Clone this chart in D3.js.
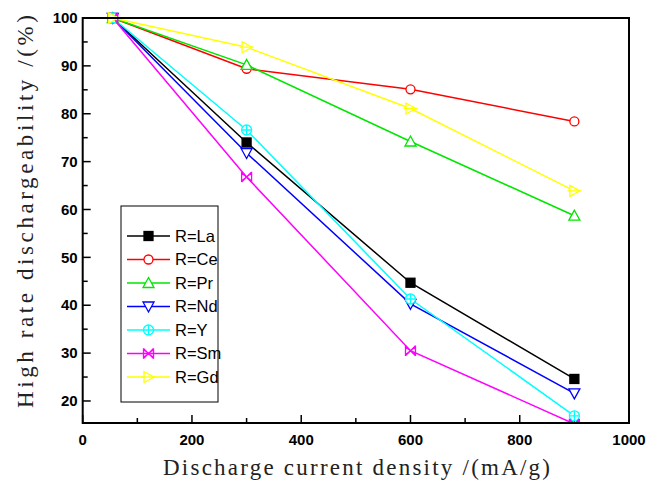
<!DOCTYPE html>
<html><head><meta charset="utf-8">
<script src="https://cdn.jsdelivr.net/npm/d3@7"></script>
<style>body{margin:0;background:#fff}svg{display:block}</style>
</head><body>
<svg id="c" width="657" height="484"></svg>
<script>
const currents = [55, 300, 600, 900];
const seriesNames = ["R=La","R=Ce","R=Pr","R=Nd","R=Y","R=Sm","R=Gd"];
const La = [100, 74.0, 44.7, 24.6];
const Ce = [100, 89.4, 85.1, 78.4];
const Pr = [100, 90.2, 74.2, 58.7];
const Nd = [100, 71.8, 40.3, 21.6];
const Yv = [100, 76.6, 41.3, 16.9];
const Sm = [100, 66.8, 30.5, 15.2];
const Gd = [100, 93.9, 81.1, 63.9];
const xTicks = [0,200,400,600,800,1000];
const xMinor = [100,300,500,700,900];
const yTicks = [20,30,40,50,60,70,80,90,100];
const yMinor = [25,35,45,55,65,75,85,95];
const xTitle = "Discharge current density /(mA/g)";
const yTitle = "High rate dischargeability /(%)";

const colors = ["#000000","#ff0000","#00e600","#0000ff","#00ffff","#ff00ff","#ffff00"];
const markers = ["square","circle","triUp","triDown","circPlus","bowX","triRight"];
const values = [La,Ce,Pr,Nd,Yv,Sm,Gd];

const svg = d3.select("#c");
const L=82.7, R=629, T=18, B=423;
const x = d3.scaleLinear().domain([0,1000]).range([L,R]);
const y = d3.scaleLinear().domain([15.4,100]).range([B,T]);

svg.append("defs").append("clipPath").attr("id","clip")
  .append("rect").attr("x",L).attr("y",T-8).attr("width",R-L).attr("height",B-T+8);

function drawMarker(g, type, cx, cy, col){
  const m = g.append("g").attr("transform",`translate(${cx},${cy})`)
    .attr("stroke",col).attr("stroke-width",1.3).attr("fill","#fff");
  if(type==="square"){ m.append("rect").attr("x",-4.5).attr("y",-4.5).attr("width",9).attr("height",9).attr("fill",col); }
  else if(type==="circle"){ m.append("circle").attr("r",4.5); }
  else if(type==="triUp"){ m.append("path").attr("d","M0,-5.5L5.5,4.5L-5.5,4.5Z"); }
  else if(type==="triDown"){ m.append("path").attr("d","M0,5.5L5.5,-4.5L-5.5,-4.5Z"); }
  else if(type==="circPlus"){ m.append("circle").attr("r",5); m.append("path").attr("d","M-5,0H5M0,-5V5").attr("fill","none"); }
  else if(type==="bowX"){ m.append("path").attr("d","M-5,-5L5,5M5,-5L-5,5M-5,-4L-5,4L5,-4L5,4Z").attr("fill","none"); }
  else if(type==="triRight"){ m.append("path").attr("d","M5.5,0L-4.5,-5.5L-4.5,5.5Z"); m.append("path").attr("d","M-7,0H7").attr("fill","none"); }
}

// axes ticks
const ax = svg.append("g");
ax.selectAll(".xt").data(xTicks).join("line").attr("x1",d=>x(d)).attr("x2",d=>x(d)).attr("y1",B).attr("y2",B-8).attr("stroke","#000").attr("stroke-width",1.5);
ax.selectAll(".xm").data(xMinor).join("line").attr("x1",d=>x(d)).attr("x2",d=>x(d)).attr("y1",B).attr("y2",B-5).attr("stroke","#000").attr("stroke-width",1.5);
ax.selectAll(".yt").data(yTicks).join("line").attr("x1",L).attr("x2",L+8).attr("y1",d=>y(d)).attr("y2",d=>y(d)).attr("stroke","#000").attr("stroke-width",1.5);
ax.selectAll(".ym").data(yMinor).join("line").attr("x1",L).attr("x2",L+5).attr("y1",d=>y(d)).attr("y2",d=>y(d)).attr("stroke","#000").attr("stroke-width",1.5);
ax.selectAll(".xl").data(xTicks).join("text").attr("x",d=>x(d)).attr("y",B+22).attr("text-anchor","middle")
  .attr("font-family","Liberation Sans, Arial").attr("font-weight","bold").attr("font-size",15).text(d=>d);
ax.selectAll(".yl").data(yTicks).join("text").attr("x",L-5).attr("y",d=>y(d)).attr("dy","0.35em").attr("text-anchor","end")
  .attr("font-family","Liberation Sans, Arial").attr("font-weight","bold").attr("font-size",15).text(d=>d);

// data
const dg = svg.append("g").attr("clip-path","url(#clip)");
const line = d3.line().x((d,i)=>x(currents[i])).y(d=>y(d));
values.forEach((vals,k)=>{
  dg.append("path").attr("d",line(vals)).attr("fill","none").attr("stroke",colors[k]).attr("stroke-width",1.5);
});
values.forEach((vals,k)=>{
  vals.forEach((v,i)=>drawMarker(dg, markers[k], x(currents[i]), y(v), colors[k]));
});

// frame
svg.append("rect").attr("x",L).attr("y",T).attr("width",R-L).attr("height",B-T).attr("fill","none").attr("stroke","#000").attr("stroke-width",2);

// legend
const lg = svg.append("g");
lg.append("rect").attr("x",121).attr("y",206).attr("width",97).attr("height",196).attr("fill","#fff").attr("stroke","#000").attr("stroke-width",1);
seriesNames.forEach((n,k)=>{
  const yy = 236 + k*23.5;
  lg.append("line").attr("x1",127).attr("x2",170).attr("y1",yy).attr("y2",yy).attr("stroke",colors[k]).attr("stroke-width",1.5);
  drawMarker(lg, markers[k], 148.5, yy, colors[k]);
  lg.append("text").attr("x",175).attr("y",yy).attr("dy","0.36em").attr("font-family","Liberation Sans, Arial").attr("font-size",16.5).text(n);
});

// titles
svg.append("text").attr("x",356.5).attr("y",475).attr("text-anchor","middle")
  .attr("font-family","Liberation Serif, DejaVu Serif").attr("font-size",23)
  .attr("textLength",387).attr("lengthAdjust","spacing").attr("fill","#222").text(xTitle);
svg.append("text").attr("transform",`translate(33,211.5) rotate(-90)`).attr("text-anchor","middle")
  .attr("font-family","Liberation Serif, DejaVu Serif").attr("font-size",23)
  .attr("textLength",393).attr("lengthAdjust","spacing").attr("fill","#222").text(yTitle);
</script>
</body></html>
